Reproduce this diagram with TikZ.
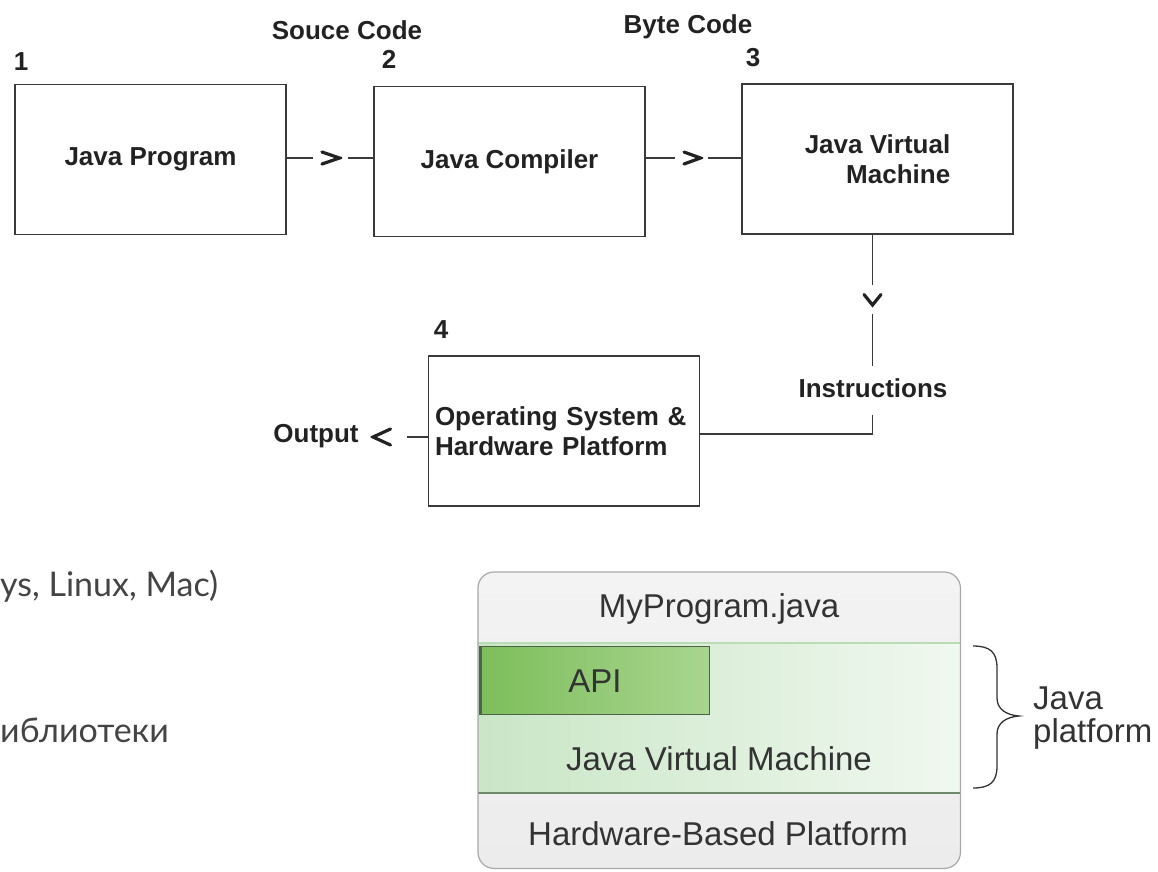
\documentclass[tikz,border=0pt]{standalone}
\usepackage{fontspec}
\setmainfont{Liberation Sans}
\newfontfamily\gillfont{Lato}
\definecolor{ink}{HTML}{222222}
\definecolor{boxline}{HTML}{3A3A3A}
\definecolor{soft}{HTML}{333333}
\definecolor{slide}{HTML}{444444}
\definecolor{outerline}{HTML}{A8A8A8}
\definecolor{grayA}{HTML}{F3F3F3}
\definecolor{grayB}{HTML}{ECECEC}
\definecolor{jvmL}{HTML}{C9E6C6}
\definecolor{jvmR}{HTML}{F0F8EF}
\definecolor{jvmtop}{HTML}{B8DDB3}
\definecolor{jvmbot}{HTML}{6E8A6C}
\definecolor{apiL}{HTML}{7DBE5C}
\definecolor{apiR}{HTML}{A8D58F}
\definecolor{apiline}{HTML}{4E6248}
\newcommand{\bfnt}{\fontsize{26}{30}\selectfont\bfseries}
\newcommand{\rfnt}{\fontsize{33}{33}\selectfont}
\begin{document}
\begin{tikzpicture}[x=1pt,y=-1pt,
  flowbox/.style={draw=boxline, line width=1.6pt, minimum width=271pt, minimum height=150pt,
    font=\bfnt, text=ink, inner sep=0pt},
  lbl/.style={font=\bfnt, text=ink, inner sep=0pt},
  chevbase/.style={inner sep=0pt, minimum width=22pt, minimum height=16pt},
  chevright/.style={chevbase, path picture={\draw[ink, line width=3.2pt, line cap=round, line join=miter]
     ([xshift=2pt,yshift=-2pt]path picture bounding box.north west) -- ([xshift=-2.5pt]path picture bounding box.east)
     -- ([xshift=2pt,yshift=2pt]path picture bounding box.south west);}},
  chevleft/.style={chevbase, path picture={\draw[ink, line width=3.2pt, line cap=round, line join=miter]
     ([xshift=-2pt,yshift=-2pt]path picture bounding box.north east) -- ([xshift=2.5pt]path picture bounding box.west)
     -- ([xshift=-2pt,yshift=2pt]path picture bounding box.south east);}},
  chevdown/.style={chevbase, path picture={\draw[ink, line width=3.2pt, line cap=round, line join=miter]
     ([xshift=2pt,yshift=-2pt]path picture bounding box.north west) -- ([yshift=2.5pt]path picture bounding box.south)
     -- ([xshift=-2pt,yshift=-2pt]path picture bounding box.north east);}},
  conn/.style={draw=boxline, line width=1.3pt},
  layertxt/.style={font=\rfnt, text=soft, inner sep=0pt, anchor=base},
  slidetxt/.style={font=\gillfont\fontsize{34}{34}\selectfont, text=slide, inner sep=0pt, anchor=base west}
]
\useasboundingbox (0,0) rectangle (1158,871);

% ---------- top flow diagram ----------
\node[flowbox] (b1) at (150.5,159.5) {Java Program};
\node[flowbox] (b2) at (509.5,161.5) {Java Compiler};
\node[flowbox, align=right] (b3) at (877.5,159) {Java Virtual\\Machine};
\node[flowbox, align=left, text width=258pt] (b4) at (564,431) {Operating System \&\\Hardware Platform};

\node[lbl] (n1) at (21,62) {1};
\node[lbl] (n2) at (389,59) {2};
\node[lbl] (n3) at (753,58) {3};
\node[lbl] (n4) at (441,330) {4};
\node[lbl, anchor=base] (src) at (347,39) {Souce Code};
\node[lbl, anchor=base] (bc) at (688,33) {Byte Code};

\node[chevright] (ch1) at (331,158) {};
\node[chevright, minimum width=21pt] (ch2) at (692.5,158) {};
\node[chevdown, minimum width=21pt, minimum height=15pt] (ch3) at (872.5,300) {};
\node[chevleft, minimum width=22pt, minimum height=20pt] (ch4) at (381.5,437) {};
\node[lbl] (instr) at (873,388) {Instructions};
\node[lbl] (out) at (316,436) {Output};

\draw[conn, shorten >=7pt] (b1.east |- ch1) -- (ch1.west);
\draw[conn, shorten <=6pt] (ch1.east) -- (b2.west |- ch1);
\draw[conn, shorten >=7pt] (b2.east |- ch2) -- (ch2.west);
\draw[conn, shorten <=5pt] (ch2.east) -- (b3.west |- ch2);
\draw[conn, shorten >=7pt] (b3.south -| ch3) -- (ch3.north);
\draw[conn, shorten <=6pt, shorten >=12pt] (ch3.south) -- (instr.north -| ch3);
\draw[conn] ([yshift=-17pt]instr.south -| ch3) |- (b4.east |- 0,434);
\draw[conn, shorten >=14pt] (b4.west |- ch4) -- (ch4.east);

% ---------- slide text ----------
\node[slidetxt] (os) at (0,596) {ys, Linux, Mac)};
\node[slidetxt] (lib) at (0,742) {иблиотеки};

% ---------- Java platform stack ----------
\node[minimum width=482pt, minimum height=296pt, anchor=north west, inner sep=0pt,
      rounded corners=16pt, top color=grayA, bottom color=grayB] (outer) at (478,572) {};
\node[minimum width=482pt, minimum height=150pt, anchor=north west, inner sep=0pt,
      left color=jvmL, right color=jvmR] (jvm) at (478,643) {};
\draw[jvmtop, line width=1.2pt] (jvm.north west) -- (jvm.north east);
\draw[jvmbot, line width=2pt] (jvm.south west) -- (jvm.south east);
\node[minimum width=229pt, minimum height=68pt, anchor=north west, inner sep=0pt,
      left color=apiL, right color=apiR, draw=apiline, line width=1.4pt] (api) at (480,646) {};
\draw[apiline, line width=3pt] (api.north west) -- (api.south west);
\draw[outerline, line width=1.2pt, rounded corners=16pt] (outer.north west) rectangle (outer.south east);

\node[layertxt] (myprog) at (719,617) {MyProgram.java};
\node[layertxt] (apit) at (595,692) {API};
\node[layertxt] (jvmt) at (719,770) {Java Virtual Machine};
\node[layertxt] (hwt) at (718,845) {Hardware-Based Platform};

% brace
\draw[soft, line width=1.3pt] (973,646) .. controls (990,646) and (997,652) .. (997,668)
  -- (997,698) .. controls (997,709) and (1006,715) .. (1019,716)
  .. controls (1006,717) and (997,723) .. (997,734)
  -- (997,766) .. controls (997,782) and (990,788) .. (973,788);
\node[font=\rfnt, text=soft, inner sep=0pt, anchor=base west] (jp) at (1033,709) {Java};
\node[font=\rfnt, text=soft, inner sep=0pt, anchor=base west] (jp2) at (1033,742) {platform};
\end{tikzpicture}
\end{document}
